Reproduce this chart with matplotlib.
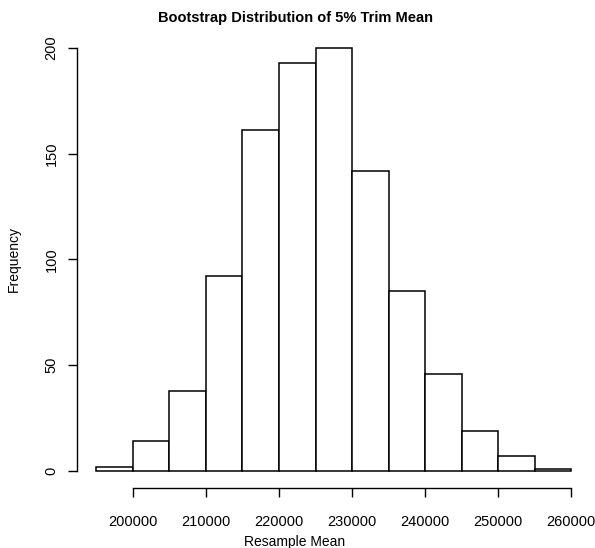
import numpy as np
from matplotlib import pyplot as plt

plt.rcParams['font.family'] = ['Liberation Sans', 'DejaVu Sans']

# histogram of bootstrap 5% trimmed means, bins of 5000
binEdges = np.arange(195000, 260001, 5000)
counts = [2, 14, 38, 92, 161, 193, 200, 142, 85, 46, 19, 7, 1]
xTicks = [200000, 210000, 220000, 230000, 240000, 250000, 260000]
yTicks = [0, 50, 100, 150, 200]

fig = plt.figure(figsize=(5.95, 5.48), dpi=100)
ax = fig.add_axes([0.130, 0.1095, 0.862, 0.834])

ax.bar(binEdges[:-1], counts, width=np.diff(binEdges), align='edge',
       color='white', edgecolor='black', linewidth=1.1)

ax.set_xlim(192400, 262600)
ax.set_ylim(-8, 208)
ax.set_xticks(xTicks)
ax.set_xticklabels([str(t) for t in xTicks])
ax.set_yticks(yTicks)
ax.set_yticklabels([str(t) for t in yTicks], rotation=90, va='center')

for s in ['top', 'right']:
    ax.spines[s].set_visible(False)
ax.spines['left'].set_bounds(0, 200)
ax.spines['bottom'].set_bounds(200000, 260000)
for s in ['left', 'bottom']:
    ax.spines[s].set_linewidth(1.0)
ax.tick_params(length=6.5, width=1.0, labelsize=10.5)
ax.tick_params(axis='x', pad=13)
ax.tick_params(axis='y', pad=7)

# title and x label are centred a bit left of the plot area in the original
fig.text(295 / 595, 1 - 18 / 548, 'Bootstrap Distribution of 5% Trim Mean',
         fontsize=10.5, fontweight='bold', ha='center', va='center')
ax.set_xlabel('Resample Mean', fontsize=10)
ax.xaxis.set_label_coords((295 - 77.5) / (590 - 77.5), -0.103)
ax.set_ylabel('Frequency', fontsize=10, labelpad=17)

plt.savefig('out.png')
